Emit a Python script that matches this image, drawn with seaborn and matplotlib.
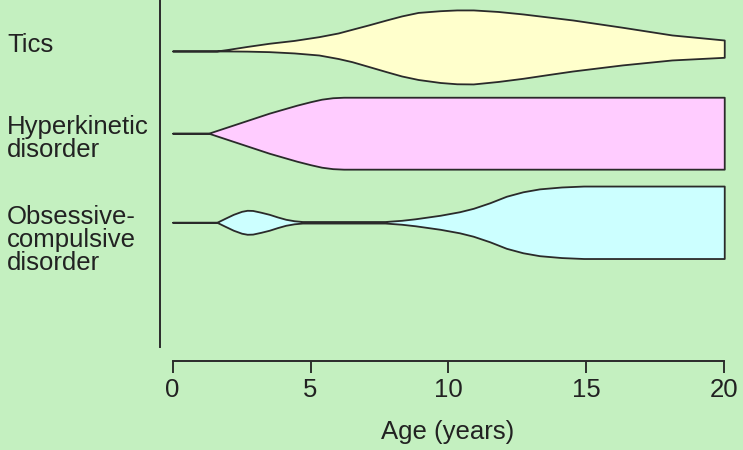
import seaborn as sns
import matplotlib.pyplot as plt

# age grid (years) and half-widths of each band (100 = one row spacing)
tics_age = [0, 1.6, 2.0, 2.7, 3.5, 4.4, 5.3, 6.0, 6.5, 7.1, 7.75, 8.3, 8.9, 9.7, 10.3, 10.9,
            11.8, 12.7, 13.6, 14.5, 16.3, 18.1, 20]
tics_up = [0, 0, 1.8, 5.3, 9, 12.3, 16.7, 21, 25.3, 30.4, 36.2, 40.9, 45, 47, 47.9, 47.9,
           46.1, 43.2, 39.7, 36.2, 27.7, 18.7, 12.8]
tics_low = [0, 0, 0, 0.2, 0.8, 2.3, 4.7, 8.8, 12.5, 18.1, 24.2, 29.2, 33.3, 36.8, 38.3, 38.5,
            35.6, 31.9, 27.6, 23.4, 16.3, 10.5, 7.4]

hkd_age = [0, 1.3, 2.4, 3.5, 4.5, 5.0, 5.4, 5.8, 6.2, 20]
hkd_hw = [0, 0, 11.7, 23.4, 32.7, 36.8, 39.7, 41.4, 42, 42]

ocd_age = [0, 1.6, 1.9, 2.2, 2.5, 2.7, 2.9, 3.2, 3.5, 3.8, 4.1, 4.4, 4.7, 7.7, 8.3, 8.8, 9.7,
           10.4, 10.9, 11.5, 12.1, 12.7, 13.3, 14.1, 14.9, 20]
ocd_hw = [0, 0, 4.7, 9.3, 12.8, 14, 13.8, 11.7, 9.3, 6.2, 3.5, 1.8, 0.9, 0.9, 2.3, 4.1, 8.2,
          12.3, 16.3, 22.8, 30.4, 35.6, 39, 41.2, 42.3, 42.3]

labels = ['Tics', 'Hyperkinetic\ndisorder', 'Obsessive-\ncompulsive\ndisorder']
fills = ['#ffffcc', '#ffccff', '#ccffff']
row_pos = [0, 96, 200]

bg = '#c4f0c0'
sns.set_theme(style='white', rc={'figure.facecolor': bg, 'axes.facecolor': bg})
plt.rcParams['font.family'] = ['Liberation Sans', 'DejaVu Sans']

fig = plt.figure(figsize=(7.43, 4.5), dpi=100)
ax = fig.add_axes([160/743, 1-347/450, 575/743, 347/450])

bands = [(tics_age, tics_up, tics_low), (hkd_age, hkd_hw, hkd_hw), (ocd_age, ocd_hw, ocd_hw)]
for (age, up, low), c, y0 in zip(bands, fills, row_pos):
    top = [y0 - u for u in up]
    bot = [y0 + l for l in low]
    ax.fill_between(age, top, bot, facecolor=c, edgecolor='#2a2a2a', linewidth=1.3,
                    joinstyle='round')

ax.set_xlim(-0.46, 20.39)
ax.set_ylim(345.6, -59.5)
ax.set_yticks([])
ax.set_xticks([0, 5, 10, 15, 20])
ax.tick_params(axis='x', direction='out', length=8.6, width=1.3, pad=4,
               labelsize=18.5, colors='#222222', bottom=True)
ax.set_xlabel('Age (years)', fontsize=18.5, color='#222222', labelpad=13)

sns.despine(ax=ax, top=True, right=True)
ax.spines['bottom'].set_position(('outward', 9.9))
ax.spines['bottom'].set_bounds(0, 20)
for s in ['left', 'bottom']:
    ax.spines[s].set_color('#2a2a2a')
    ax.spines[s].set_linewidth(1.4)

# baseline of the last line of each label
ys = [1-51.7/450, 1-157/450, 1-270/450]
for lab, y in zip(labels, ys):
    fig.text(7/743, y, lab, fontsize=18.5, color='#222222', ha='left', va='baseline',
             linespacing=0.95)

fig.savefig('out.png', dpi=100, facecolor=bg)
